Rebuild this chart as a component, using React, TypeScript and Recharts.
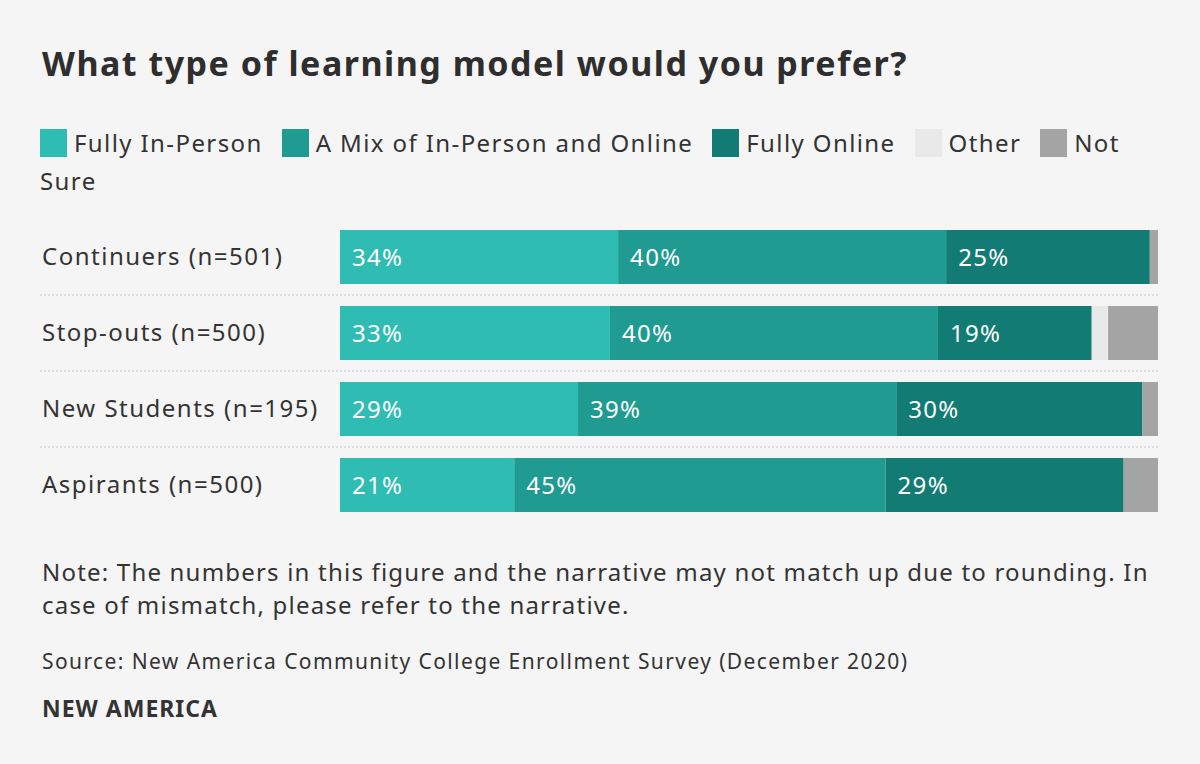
import { Fragment } from "react";
import { BarChart, Bar, XAxis, YAxis, CartesianGrid, LabelList } from "recharts";

const groups = ["Continuers (n=501)", "Stop-outs (n=500)", "New Students (n=195)", "Aspirants (n=500)"];
const fullyInPerson = [34, 33, 29.1, 21.3];
const mixed = [40.1, 40.1, 38.9, 45.4];
const fullyOnline = [24.9, 18.8, 30.1, 29.1];
const other = [0, 2, 0, 0];
const notSure = [1, 6.1, 1.9, 4.2];

const series = [
  { key: "inPerson", name: "Fully In-Person", color: "#2fbdb3", values: fullyInPerson, label: true },
  { key: "mix", name: "A Mix of In-Person and Online", color: "#1f9b92", values: mixed, label: true },
  { key: "online", name: "Fully Online", color: "#127b73", values: fullyOnline, label: true },
  { key: "other", name: "Other", color: "#e9e9e9", values: other, label: false },
  { key: "notSure", name: "Not Sure", color: "#a4a4a4", values: notSure, label: false },
];

const data = groups.map((name, i) => {
  const row: Record<string, string | number> = { name };
  series.forEach((s) => (row[s.key] = s.values[i]));
  return row;
});

const font = "'Noto Sans', sans-serif";
const ink = "#333333";

function GroupTick(props: any) {
  const { y, payload, index } = props;
  return (
    <g>
      <text x={42} y={y} dy={8} textAnchor="start" fontSize={24} fill={ink} fontFamily={font} letterSpacing={1.5}>
        {payload.value}
      </text>
      {index < groups.length - 1 && (
        <line x1={40} x2={1158} y1={y + 38} y2={y + 38} stroke="#dcdcdc" strokeWidth={2} strokeDasharray="2 2" />
      )}
    </g>
  );
}

export default function App() {
  return (
    <div style={{ position: "relative", width: 1200, height: 764, background: "#f5f5f5", fontFamily: font, color: ink, overflow: "hidden" }}>
      <style>{`body{margin:0}`}</style>
      <div style={{ position: "absolute", left: 42, top: 40, fontSize: 34, fontWeight: 700, letterSpacing: 1.5, color: "#2e2e2e" }}>
        What type of learning model would you prefer?
      </div>
      <div style={{ position: "absolute", left: 40, top: 124, width: 1125, fontSize: 24, lineHeight: "38px", letterSpacing: 1.4 }}>
        {series.map((s) => (
          <Fragment key={s.key}>
            <span style={{ display: "inline-block", width: 27, height: 28, background: s.color, verticalAlign: "-5px", marginRight: 7 }} />
            {s.name.split(" ").map((word, j, words) => (
              <Fragment key={j}>
                <span style={{ marginRight: j === words.length - 1 ? 19 : 0 }}>{word}</span>
                {j < words.length - 1 ? " " : ""}
              </Fragment>
            ))}
          </Fragment>
        ))}
      </div>
      <div style={{ position: "absolute", left: 0, top: 0 }}>
        <BarChart width={1200} height={540} data={data} layout="vertical" margin={{ top: 219, right: 42, bottom: 17, left: 42 }}>
          <CartesianGrid horizontal={false} vertical={false} />
          <XAxis type="number" domain={[0, 100]} hide />
          <YAxis type="category" dataKey="name" width={298} axisLine={false} tickLine={false} tick={<GroupTick />} />
          {series.map((s) => (
            <Bar key={s.key} dataKey={s.key} stackId="a" fill={s.color} barSize={54} isAnimationActive={false}>
              {s.label && (
                <LabelList
                  dataKey={s.key}
                  position="insideLeft"
                  offset={12}
                  fill="#ffffff"
                  fontSize={24}
                  fontFamily={font}
                  letterSpacing={1.3}
                  formatter={(v: any) => `${Math.round(Number(v))}%`}
                />
              )}
            </Bar>
          ))}
        </BarChart>
      </div>
      <div style={{ position: "absolute", left: 42, top: 555, width: 1120, fontSize: 24, lineHeight: "33px", letterSpacing: 1.2 }}>
        Note: The numbers in this figure and the narrative may not match up due to rounding. In case of mismatch, please refer to the narrative.
      </div>
      <div style={{ position: "absolute", left: 42, top: 647, fontSize: 21, letterSpacing: 1.4 }}>
        Source: New America Community College Enrollment Survey (December 2020)
      </div>
      <div style={{ position: "absolute", left: 42, top: 692, fontSize: 23, fontWeight: 700, letterSpacing: 1 }}>
        NEW AMERICA
      </div>
    </div>
  );
}
